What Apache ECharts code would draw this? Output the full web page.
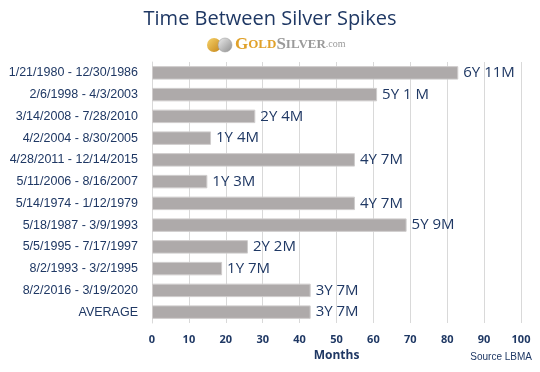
<!DOCTYPE html>
<html><head><meta charset="utf-8">
<script src="https://cdn.jsdelivr.net/npm/echarts@6/dist/echarts.min.js"></script>
<style>html,body{margin:0;padding:0;background:#fff}#c{width:540px;height:372px}</style>
</head><body><div id="c"></div>
<script>
const categories = ["1/21/1980 - 12/30/1986","2/6/1998 - 4/3/2003","3/14/2008 - 7/28/2010","4/2/2004 - 8/30/2005","4/28/2011 - 12/14/2015","5/11/2006 - 8/16/2007","5/14/1974 - 1/12/1979","5/18/1987 - 3/9/1993","5/5/1995 - 7/17/1997","8/2/1993 - 3/2/1995","8/2/2016 - 3/19/2020","AVERAGE"];
const months = [83,61,28,16,55,15,55,69,26,19,43,43];
const barLabels = ["6Y 11M","5Y 1 M","2Y 4M","1Y 4M","4Y 7M","1Y 3M","4Y 7M","5Y 9M","2Y 2M","1Y 7M","3Y 7M","3Y 7M"];
const xTicks = [0,10,20,30,40,50,60,70,80,90,100];

const navy = '#1f3864';
const chart = echarts.init(document.getElementById('c'));
chart.setOption({
  animation:false,
  title:{text:'Time Between Silver Spikes',left:'center',top:4,
    textStyle:{fontFamily:'Open Sans',fontSize:20,fontWeight:'normal',color:navy}},
  graphic:[
    {type:'circle',shape:{cx:214,cy:45,r:7},style:{fill:new echarts.graphic.LinearGradient(0,0,1,1,[{offset:0,color:'#f7d36b'},{offset:1,color:'#c5861a'}])}},
    {type:'circle',shape:{cx:225,cy:45,r:7},style:{fill:new echarts.graphic.LinearGradient(0,0,1,1,[{offset:0,color:'#eeeeee'},{offset:1,color:'#8d8d8d'}]),stroke:'#999',lineWidth:0.5}},
    {type:'text',left:235,top:36,style:{rich:{
        g:{fontFamily:'Liberation Serif',fontSize:17,fontWeight:'bold',fill:'#e0a12a'},
        go:{fontFamily:'Liberation Serif',fontSize:13,fontWeight:'bold',fill:'#e0a12a'},
        s:{fontFamily:'Liberation Serif',fontSize:17,fontWeight:'bold',fill:'#9a9a9a'},
        so:{fontFamily:'Liberation Serif',fontSize:13,fontWeight:'bold',fill:'#9a9a9a'},
        c:{fontFamily:'Liberation Serif',fontSize:10,fill:'#9a9a9a'}},
      text:'{g|G}{go|OLD}{s|S}{so|ILVER}{c|.com}'}},
    {type:'text',right:8,top:352,style:{text:'Source LBMA',fontFamily:'Liberation Sans',fontSize:10,fill:navy}}
  ],
  grid:{left:152,right:19,top:62,bottom:49,containLabel:false},
  xAxis:{type:'value',min:0,max:100,interval:10,
    name:'Months',nameLocation:'middle',nameGap:22,
    nameTextStyle:{fontFamily:'Open Sans',fontSize:12,fontWeight:'bold',color:navy},
    axisLine:{show:false},axisTick:{show:false},
    axisLabel:{fontFamily:'Open Sans',fontSize:11,fontWeight:'bold',color:navy,margin:11,
      formatter:v=>xTicks.includes(v)?String(v):''},
    splitLine:{lineStyle:{color:'#d9d9d9',width:1}}},
  yAxis:{type:'category',data:categories,inverse:true,
    axisLine:{show:true,lineStyle:{color:'#d9d9d9'}},axisTick:{show:false},
    axisLabel:{fontFamily:'Liberation Sans',fontSize:12.5,color:navy,margin:14}},
  series:[{type:'bar',data:months,barCategoryGap:'38%',
    itemStyle:{color:'#aeaaaa',borderColor:'#cfcccc',borderWidth:1},
    label:{show:true,position:'right',distance:5,fontFamily:'Open Sans',fontSize:15,color:navy,
      formatter:p=>barLabels[p.dataIndex]}}]
});
</script></body></html>
